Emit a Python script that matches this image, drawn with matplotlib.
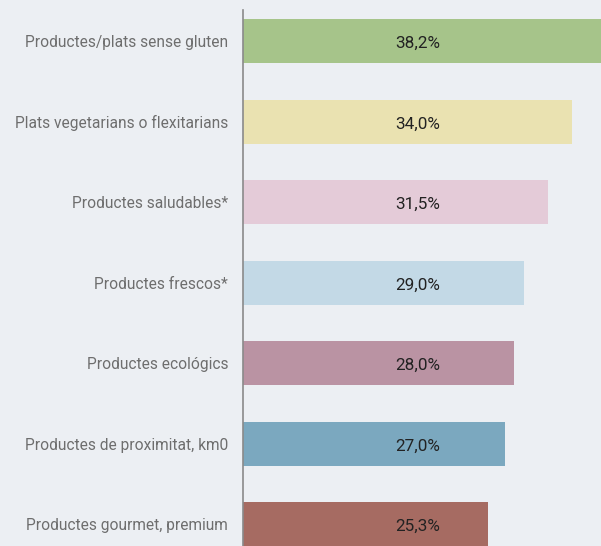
import matplotlib.pyplot as plt

plt.rcParams['font.family'] = 'Roboto'

categories = ['Productes/plats sense gluten', 'Plats vegetarians o flexitarians',
              'Productes saludables*', 'Productes frescos*', 'Productes ecológics',
              'Productes de proximitat, km0', 'Productes gourmet, premium']
values = [38.2, 34.0, 31.5, 29.0, 28.0, 27.0, 25.3]
value_labels = ['38,2%', '34,0%', '31,5%', '29,0%', '28,0%', '27,0%', '25,3%']
colors = ['#a6c48a', '#eae2b1', '#e4cbd8', '#c3d9e6', '#ba93a3', '#7ba8bf', '#a66b62']

bg = '#eceff3'
fig = plt.figure(figsize=(6.01, 5.46), dpi=100, facecolor=bg)
ax = fig.add_axes([243.5 / 601, 0, 1 - 243.5 / 601, 536 / 546], facecolor=bg)

y = list(range(len(categories)))
ax.barh(y, values, height=0.547, color=colors)

for yi, lab in zip(y, value_labels):
    ax.text(18.05, yi + 0.03, lab, ha='center', va='center', fontsize=12.3, color='#222222')

ax.set_xlim(0, 36.95)
ax.set_ylim(6.27, -0.385)
ax.set_yticks(y)
ax.set_yticklabels(categories, fontsize=11.2, color='#6e6e6e')
ax.tick_params(axis='y', length=0, pad=11)
ax.set_xticks([])
for s in ['top', 'right', 'bottom']:
    ax.spines[s].set_visible(False)
ax.spines['left'].set_color('#8a8a8a')
ax.spines['left'].set_linewidth(1.2)

fig.savefig('out.png', dpi=100, facecolor=bg)
